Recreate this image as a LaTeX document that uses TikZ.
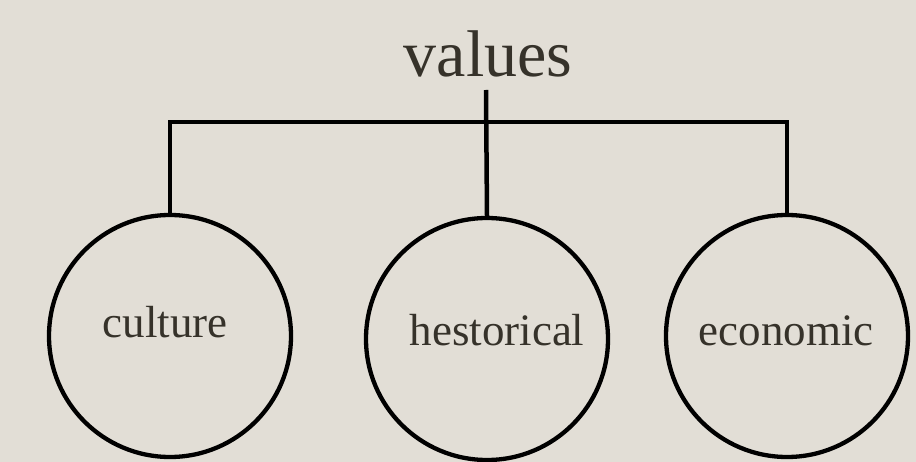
\documentclass[tikz,border=0pt]{standalone}
\usepackage{fontspec}
\setmainfont{Liberation Serif}
\definecolor{bg}{HTML}{E2DED6}
\definecolor{ink}{HTML}{36322A}
\begin{document}
\begin{tikzpicture}[x=1pt,y=-1pt,
  ring/.style={circle,draw=black,line width=4.3pt,minimum size=242pt,inner sep=0pt},
  lbl/.style={text=ink,anchor=base,inner sep=0pt,font=\fontsize{45}{50}\selectfont},
  conn/.style={draw=black,line width=4.5pt}]
\fill[bg] (0,0) rectangle (916,462);
\useasboundingbox (0,0) rectangle (916,462);
\node[ring] (c1) at (170,336) {};
\node[ring] (c2) at (487,339) {};
\node[ring] (c3) at (787,336) {};
\node[lbl] (t1) at (165,338) {culture};
\node[lbl] (t2) at (497,345) {hestorical};
\node[lbl] (t3) at (786,345) {economic};
\node[lbl,font=\fontsize{66}{70}\selectfont] (val) at (488,77) {values};
\coordinate (top) at (486,90);
\coordinate (bar) at (487,122);
\draw[conn] (c1.north) |- (bar) -| (c3.north);
\draw[conn] (top) -- (c2.north);
\end{tikzpicture}
\end{document}
